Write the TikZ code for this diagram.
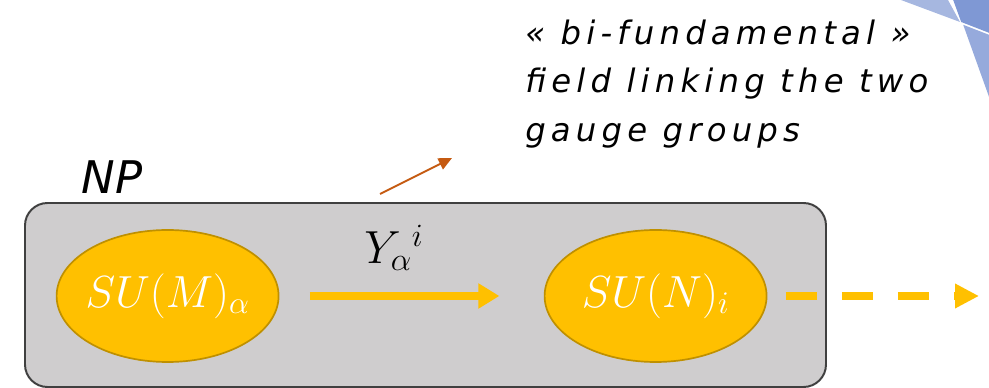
\RequirePackage{fix-cm}
\documentclass[tikz,border=0pt]{standalone}
\usepackage{amsmath}
\usepackage{fontspec}
\usepackage{tikz}
\usetikzlibrary{shapes.geometric, arrows.meta, positioning, calc}
\newfontfamily\handfont{DejaVu Sans}
\newfontfamily\notefont[LetterSpace=16]{DejaVu Sans}
\definecolor{boxgray}{RGB}{207, 205, 206}
\definecolor{boxedge}{RGB}{64, 64, 64}
\definecolor{gaugegold}{RGB}{255, 192, 0}
\definecolor{gaugeedge}{RGB}{191, 144, 0}
\definecolor{noteorange}{RGB}{197, 90, 17}
\definecolor{slidelight}{RGB}{166, 183, 224}
\definecolor{slidemid}{RGB}{150, 170, 220}
\definecolor{slidedark}{RGB}{127, 152, 212}
\tikzset{
  >=Stealth,
  gaugenode/.style={ellipse, draw=gaugeedge, line width=1.2pt, fill=gaugegold, text=white, minimum width=5.55cm, minimum height=3.3cm, inner xsep=-6pt, inner ysep=0pt, font=\fontsize{32}{38}\selectfont},
  flowarrow_gold/.style={-{Triangle[length=5.25mm, width=6mm]}, line width=5pt, gaugegold},
  flowarrow_dash/.style={-{Triangle[length=6mm, width=5.8mm]}, line width=5pt, gaugegold, dash pattern=on 7.9mm off 6.1mm},
  notearrow/.style={-{Triangle[length=3.3mm, width=3mm]}, line width=1.4pt, noteorange},
  notetext/.style={font=\notefont\itshape\fontsize{23}{34.2}\selectfont, align=left, inner sep=0pt}
}
\begin{document}
\begin{tikzpicture}
    \useasboundingbox (0, 0) rectangle (24.725, 9.7);

    % --- SLIDE CORNER ---
    \fill[slidelight] (22.525, 9.7) -- (23.7, 9.7) -- (24.0, 9.15) -- cycle;
    \fill[slidedark] (23.83, 9.7) -- (24.725, 9.7) -- (24.725, 8.88) -- (24.03, 9.15) -- cycle;
    \fill[slidemid] (24.08, 9.08) -- (24.725, 8.83) -- (24.725, 7.28) -- cycle;

    % --- NP BOX ---
    \draw[draw=boxedge, fill=boxgray, line width=1.4pt, rounded corners=16pt] (0.625, 0.025) rectangle (20.65, 4.625);
    \node[font=\handfont\itshape\fontsize{32}{36}\selectfont] (nplabel) at (2.8, 5.275) {NP};

    % --- GAUGE GROUPS ---
    \node[gaugenode] (sum) at (4.19, 2.3) {$SU(M)_{\alpha}$};
    \node[gaugenode] (sun) at (16.39, 2.3) {$SU(N)_{i}$};

    % Bi-fundamental arrow
    \draw[flowarrow_gold, shorten <=0.76cm, shorten >=1.11cm] (sum) -- (sun);
    \node[font=\fontsize{33}{40}\selectfont] (ylabel) at (9.85, 3.5) {$Y_{\alpha}{}^{i}$};

    % Outgoing dashed arrow
    \coordinate (exit) at (24.475, 2.3);
    \draw[flowarrow_dash, shorten <=0.46cm] (sun) -- (exit);

    % --- ANNOTATION ---
    \coordinate (notefoot) at (9.5, 4.85);
    \coordinate (notehead) at (11.3, 5.75);
    \draw[notearrow] (notefoot) -- (notehead);
    \node[notetext, anchor=north west] (note) at (13.125, 9.2) {« bi-fundamental »\\field linking the two\\gauge groups};
\end{tikzpicture}
\end{document}
